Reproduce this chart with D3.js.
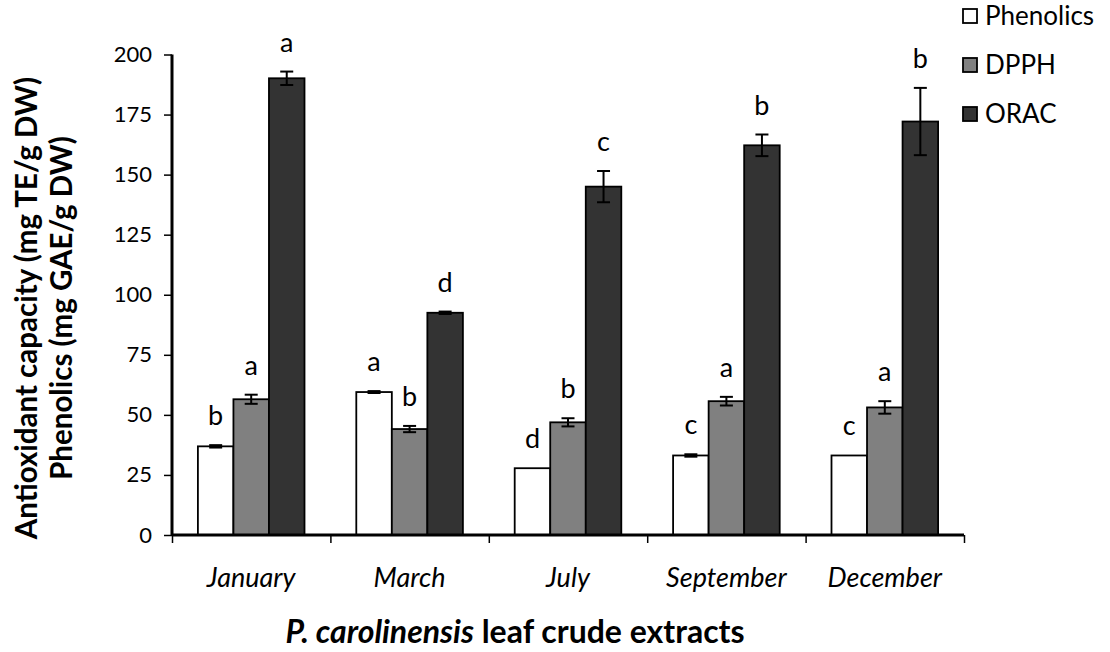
<!DOCTYPE html>
<html>
<head>
<meta charset="utf-8">
<script src="https://cdn.jsdelivr.net/npm/d3@7"></script>
<style>
  html, body { margin: 0; padding: 0; background: #fff; }
  svg { display: block; font-family: Lato, "Open Sans", sans-serif; }
</style>
</head>
<body>
<svg id="chart" width="1110" height="652"></svg>
<script>
// ---- data ----
const categories = ["January", "March", "July", "September", "December"];
const seriesNames = ["Phenolics", "DPPH", "ORAC"];
const phenolics = [36.9, 59.5, 27.8, 33.1, 33.1];
const dpph      = [56.5, 44.1, 46.9, 55.7, 53.1];
const orac      = [190.1, 92.5, 145.0, 162.2, 172.1];
const phenolicsErr = [0.5, 0.4, 0.0, 0.5, 0.0];
const dpphErr      = [1.9, 1.3, 1.7, 1.8, 2.6];
const oracErr      = [2.8, 0.5, 6.5, 4.5, 14.0];
const phenolicsLetters = ["b", "a", "d", "c", "c"];
const dpphLetters      = ["a", "b", "b", "a", "a"];
const oracLetters      = ["a", "d", "c", "b", "b"];
const yTicks = [0, 25, 50, 75, 100, 125, 150, 175, 200];
const yTitle1 = "Antioxidant capacity (mg TE/g DW)";
const yTitle2 = "Phenolics (mg GAE/g DW)";
const xTitleItalic = "P. carolinensis";
const xTitleRest = " leaf crude extracts";

// ---- build ----
const valuesBySeries = [phenolics, dpph, orac];
const errBySeries = [phenolicsErr, dpphErr, oracErr];
const lettersBySeries = [phenolicsLetters, dpphLetters, oracLetters];
const fills = ["#ffffff", "#808080", "#333333"];

const rows = [];
categories.forEach((c, i) => {
  seriesNames.forEach((s, j) => {
    rows.push({cat: c, series: s, j, value: valuesBySeries[j][i], err: errBySeries[j][i], letter: lettersBySeries[j][i]});
  });
});

const svg = d3.select("#chart");
const plotLeft = 172, plotRight = 964, plotTop = 54.5, plotBottom = 535;

const y = d3.scaleLinear().domain([0, 200]).range([plotBottom, plotTop]);
const x0 = d3.scaleBand().domain(categories).range([plotLeft, plotRight]).paddingInner(0.327).paddingOuter(0.1635);
const x1 = d3.scaleBand().domain(seriesNames).range([0, x0.bandwidth()]);
const xb = d3.scaleLinear().domain([0, categories.length]).range([plotLeft, plotRight]);
const cx = d => x0(d.cat) + x1(d.series) + x1.bandwidth() / 2;

// bars
const g = svg.append("g");
g.selectAll("rect.bar").data(rows).join("rect")
  .attr("class", "bar")
  .attr("x", d => x0(d.cat) + x1(d.series))
  .attr("y", d => y(d.value))
  .attr("width", x1.bandwidth())
  .attr("height", d => y(0) - y(d.value))
  .attr("fill", d => fills[d.j])
  .attr("stroke", "#000")
  .attr("stroke-width", 1.8);

// error bars
const cap = 6.5;
const eb = g.selectAll("g.err").data(rows.filter(d => d.err > 0)).join("g").attr("class", "err")
  .attr("stroke", "#000").attr("stroke-width", 2);
eb.append("line").attr("x1", cx).attr("x2", cx)
  .attr("y1", d => y(d.value - d.err)).attr("y2", d => y(d.value + d.err));
eb.append("line").attr("x1", d => cx(d) - cap).attr("x2", d => cx(d) + cap)
  .attr("y1", d => y(d.value + d.err)).attr("y2", d => y(d.value + d.err));
eb.append("line").attr("x1", d => cx(d) - cap).attr("x2", d => cx(d) + cap)
  .attr("y1", d => y(d.value - d.err)).attr("y2", d => y(d.value - d.err));

// significance letters
g.selectAll("text.letter").data(rows).join("text")
  .attr("class", "letter")
  .attr("x", cx)
  .attr("y", d => y(d.value + d.err) - 20)
  .attr("text-anchor", "middle")
  .attr("font-size", 27)
  .attr("fill", "#000")
  .text(d => d.letter);

// y axis
const yAxis = svg.append("g").attr("transform", `translate(${plotLeft},0)`)
  .call(d3.axisLeft(y).tickValues(yTicks).tickSize(8).tickPadding(12));
yAxis.select(".domain").attr("stroke-width", 3).attr("d", `M0,${plotTop}V${plotBottom}`);
yAxis.selectAll(".tick line").attr("stroke-width", 1.5);
yAxis.selectAll(".tick text").attr("font-size", 22).attr("font-family", "Lato, sans-serif").attr("fill", "#000");

// x axis (boundary ticks)
const xAxis = svg.append("g").attr("transform", `translate(0,${plotBottom})`)
  .call(d3.axisBottom(xb).ticks(categories.length).tickFormat("").tickSize(8));
xAxis.select(".domain").attr("stroke-width", 3).attr("d", `M${plotLeft},0H${plotRight}`);
xAxis.selectAll(".tick line").attr("stroke-width", 1.5);

// category labels
svg.append("g").selectAll("text").data(categories).join("text")
  .attr("x", d => x0(d) + x0.bandwidth() / 2)
  .attr("y", 587)
  .attr("text-anchor", "middle")
  .attr("font-size", 27)
  .attr("font-style", "italic")
  .text(d => d);

// x title
const xt = svg.append("text").attr("x", 515).attr("y", 643).attr("text-anchor", "middle")
  .attr("font-size", 32).attr("font-weight", "bold");
xt.append("tspan").attr("font-style", "italic").text(xTitleItalic);
xt.append("tspan").text(xTitleRest);

// y title
svg.append("text").attr("transform", "translate(37,308) rotate(-90)")
  .attr("text-anchor", "middle").attr("font-size", 29.5).attr("font-weight", "bold").text(yTitle1);
svg.append("text").attr("transform", "translate(72,308) rotate(-90)")
  .attr("text-anchor", "middle").attr("font-size", 29.5).attr("font-weight", "bold").text(yTitle2);

// legend
const lg = svg.append("g").selectAll("g").data(seriesNames).join("g")
  .attr("transform", (d, i) => `translate(963,${16 + i * 49})`);
lg.append("rect").attr("x", 0).attr("y", -7).attr("width", 14).attr("height", 14)
  .attr("fill", (d, i) => fills[i]).attr("stroke", "#000").attr("stroke-width", 1.8);
lg.append("text").attr("x", 22).attr("y", 0).attr("dy", "0.36em")
  .attr("font-size", 26).text(d => d);
</script>
</body>
</html>
